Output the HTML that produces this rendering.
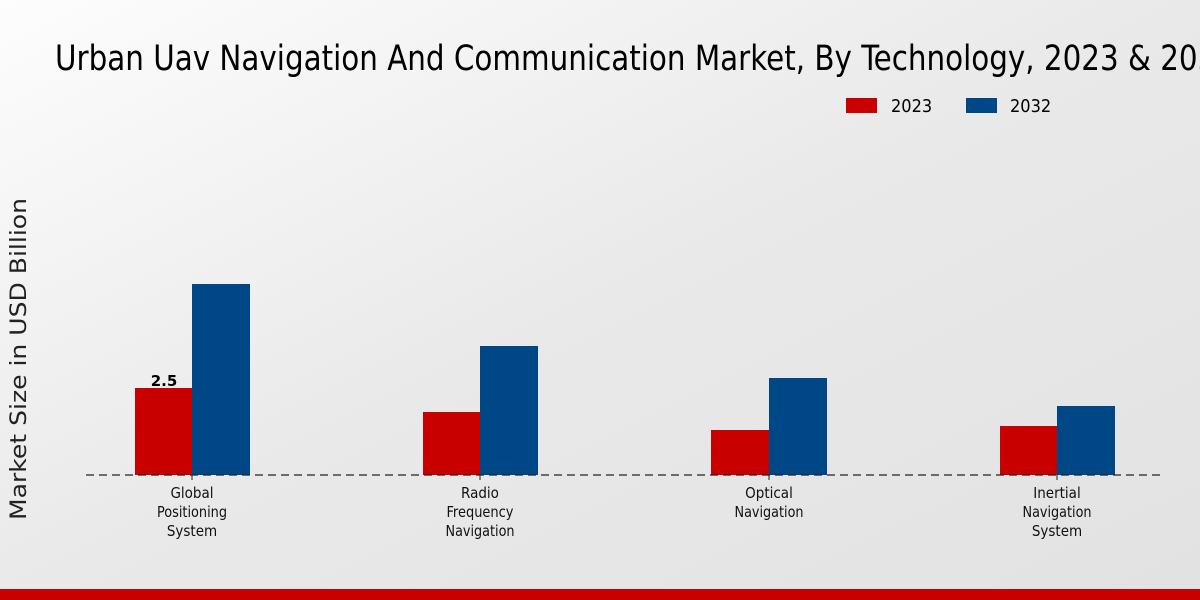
<!DOCTYPE html>
<html><head><meta charset="utf-8"><style>
html,body{margin:0;padding:0;width:1200px;height:600px;overflow:hidden}
svg{display:block}
text{font-family:"DejaVu Sans Condensed","DejaVu Sans","Liberation Sans",sans-serif}
</style></head><body>
<svg width="1200" height="600" viewBox="0 0 1200 600">
<defs><linearGradient id="bg" x1="0" y1="0" x2="1" y2="1"><stop offset="0" stop-color="#fdfdfd"/><stop offset="0.5" stop-color="#e9e9e9"/><stop offset="1" stop-color="#e2e2e2"/></linearGradient></defs>
<rect width="1200" height="600" fill="url(#bg)"/>
<text x="55" y="70" font-size="35" fill="#000" textLength="1180" lengthAdjust="spacingAndGlyphs">Urban Uav Navigation And Communication Market, By Technology, 2023 &amp; 2032</text>
<rect x="846" y="98" width="31" height="15" fill="#c80000"/>
<text x="891" y="112" font-size="18" fill="#000">2023</text>
<rect x="966" y="98" width="31" height="15" fill="#004787"/>
<text x="1010" y="112" font-size="18" fill="#000">2032</text>
<text transform="translate(26,359) rotate(-90)" font-size="22" fill="#222" text-anchor="middle" style="font-family:'DejaVu Sans',sans-serif" textLength="322" lengthAdjust="spacingAndGlyphs">Market Size in USD Billion</text>
<g>
<rect x="135" y="388" width="57" height="87" fill="#c80000"/><rect x="192" y="284" width="58" height="191" fill="#004787"/>
<rect x="423" y="412" width="57" height="63" fill="#c80000"/><rect x="480" y="346" width="58" height="129" fill="#004787"/>
<rect x="711" y="430" width="58" height="45" fill="#c80000"/><rect x="769" y="378" width="58" height="97" fill="#004787"/>
<rect x="1000" y="426" width="57" height="49" fill="#c80000"/><rect x="1057" y="406" width="58" height="69" fill="#004787"/>
</g>
<line x1="86" y1="475" x2="1165" y2="475" stroke="#222" stroke-width="1.2" stroke-dasharray="8,5"/>
<g stroke="#222"><line x1="192" y1="475" x2="192" y2="480"/><line x1="480" y1="475" x2="480" y2="480"/><line x1="769" y1="475" x2="769" y2="480"/><line x1="1057" y1="475" x2="1057" y2="480"/></g>
<text x="164" y="386" font-size="15" font-weight="bold" text-anchor="middle" style="font-family:'DejaVu Sans',sans-serif">2.5</text>
<g font-size="15" fill="#111" text-anchor="middle">
<text x="192" y="498">Global</text><text x="192" y="517" textLength="70" lengthAdjust="spacingAndGlyphs">Positioning</text><text x="192" y="536">System</text>
<text x="480" y="498">Radio</text><text x="480" y="517" textLength="67" lengthAdjust="spacingAndGlyphs">Frequency</text><text x="480" y="536" textLength="69" lengthAdjust="spacingAndGlyphs">Navigation</text>
<text x="769" y="498">Optical</text><text x="769" y="517" textLength="69" lengthAdjust="spacingAndGlyphs">Navigation</text>
<text x="1057" y="498">Inertial</text><text x="1057" y="517" textLength="69" lengthAdjust="spacingAndGlyphs">Navigation</text><text x="1057" y="536">System</text>
</g>
<rect x="0" y="589" width="1200" height="11" fill="#c80000"/>
</svg>
</body></html>
